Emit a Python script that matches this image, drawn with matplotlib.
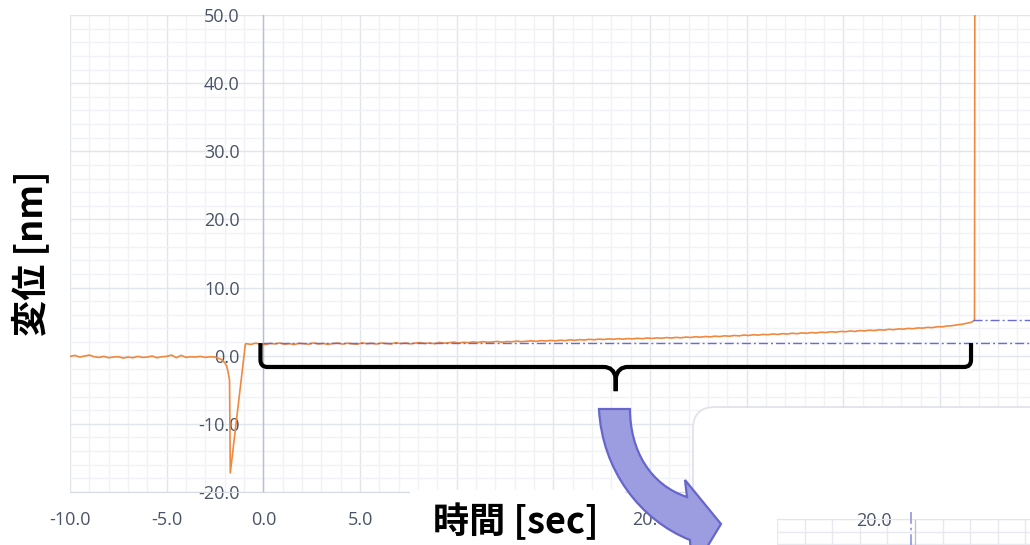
import numpy as np
import matplotlib
matplotlib.use("Agg")
import matplotlib.pyplot as plt
from matplotlib.path import Path
from matplotlib.patches import PathPatch, FancyBboxPatch, Rectangle
from matplotlib.transforms import IdentityTransform

W, H, DPI = 1030, 545, 100

# ---------------- data ----------------
# baseline before the event, sampled every 0.25 s starting at -10 s
base_t0, base_dt = -10.0, 0.25
base_disp = [-0.10, 0.05, -0.20, -0.05, 0.10, -0.15, -0.25, -0.10, -0.30, -0.20,
             -0.15, -0.35, -0.20, -0.30, -0.10, -0.25, -0.20, -0.05, -0.30, -0.15,
             -0.10, 0.10, -0.30, 0.05, -0.25, -0.15, -0.20, -0.10, -0.25, -0.15,
             -0.20]

# dip during the approach
dip_t = [-2.40, -2.20, -2.00, -1.90, -1.83, -1.75, -1.71, -0.93]
dip_disp = [-0.30, -0.50, -1.00, -1.50, -2.30, -3.60, -17.20, 1.70]

# slow creep during the hold, sampled every 0.25 s starting at -0.9 s
hold_t0, hold_dt = -0.9, 0.25
hold_disp = [
    1.78, 1.66, 1.84, 1.70, 1.62, 1.81, 1.73, 1.86, 1.68, 1.77, 1.64, 1.83,
    1.75, 1.69, 1.88, 1.72, 1.80, 1.66, 1.79, 1.87, 1.70, 1.84, 1.74, 1.68,
    1.89, 1.76, 1.83, 1.71, 1.86, 1.79, 1.72, 1.91, 1.78, 1.88, 1.74, 1.85,
    1.93, 1.80, 1.87, 1.76, 1.95, 1.84, 1.90, 2.00, 1.86, 1.97, 1.91, 2.03,
    1.94, 2.06, 1.97, 2.02, 2.10, 1.99, 2.08, 2.04, 2.15, 2.06, 2.12, 2.19,
    2.11, 2.22, 2.16, 2.25, 2.18, 2.28, 2.21, 2.33, 2.26, 2.36, 2.30, 2.41,
    2.34, 2.44, 2.38, 2.47, 2.41, 2.50, 2.43, 2.52, 2.47, 2.56, 2.49, 2.60,
    2.53, 2.62, 2.57, 2.66, 2.60, 2.69, 2.63, 2.73, 2.68, 2.78, 2.72, 2.82,
    2.76, 2.87, 2.81, 2.92, 2.86, 2.97, 2.91, 3.03, 2.97, 3.08, 3.02, 3.13,
    3.08, 3.19, 3.12, 3.24, 3.18, 3.30, 3.23, 3.35, 3.29, 3.40, 3.34, 3.46,
    3.40, 3.52, 3.45, 3.57, 3.52, 3.63, 3.56, 3.69, 3.64, 3.75, 3.69, 3.81,
    3.76, 3.88, 3.82, 3.94, 3.90, 4.01, 3.96, 4.08, 4.05, 4.16, 4.12, 4.25,
    4.24, 4.36, 4.40, 4.52, 4.60, 4.74, 4.90,
]

# release: jump off scale
release_t = [36.72, 36.78, 36.80]
release_disp = [5.08, 5.24, 60.0]

# reference levels (start / end of hold)
ref_start_t, ref_start_level = 0.0, 1.85
ref_end_t, ref_end_level = 36.70, 5.24

# brace spanning the hold period
brace_x = (-0.15, 36.60)
brace_y = (1.85, -1.65, -5.20)   # top of ends, horizontal bar, tip

x_lim = (-10.0, 39.65)
y_lim = (-20.0, 50.0)
x_major = [-10, -5, 0, 5, 10, 15, 20, 25, 30, 35]
# labels under the title plate and the card are left blank
x_ticklabels = ["-10.0", "-5.0", "0.0", "5.0", "", "", "20.0", "", "", ""]
x_minor = list(range(-10, 40))
y_major = [-20, -10, 0, 10, 20, 30, 40, 50]
y_ticklabels = ["-20.0", "-10.0", "0.0", "10.0", "20.0", "30.0", "40.0", "50.0"]
y_minor = list(range(-20, 51, 2))

# zoomed panel (only its upper edge shows)
inset_xlim = (0.0, 9.42)
inset_ylim = (16.8, 20.0)
inset_xgrid = list(range(0, 10))
inset_ygrid = [17, 18, 19, 20]
inset_ylabels = ["", "", "", "20.0"]
inset_axis_x = 5.0
inset_marker_x = 4.85

# ---------------- styling ----------------
ORANGE = "#f0883e"
REFBLUE = "#6a6ad8"
TICK_COLOR = "#4a5468"
GRID_MAJOR = "#e1e5ec"
GRID_MINOR = "#f0f2f6"
AXIS_COLOR = "#b9c1cf"
TICK_FONT = ["Open Sans", "DejaVu Sans"]
LABEL_FONT = ["Noto Sans CJK JP", "DejaVu Sans"]
TICK_SIZE = 13

fig = plt.figure(figsize=(W / DPI, H / DPI), dpi=DPI)
fig.patch.set_facecolor("white")

ax = fig.add_axes([70 / W, 1 - 492 / H, 960 / W, 477 / H])
ax.set_xlim(*x_lim)
ax.set_ylim(*y_lim)
ax.set_xticks(x_major)
ax.set_xticklabels(x_ticklabels)
ax.set_xticks(x_minor, minor=True)
ax.set_yticks(y_major)
ax.set_yticklabels(y_ticklabels)
ax.set_yticks(y_minor, minor=True)
ax.grid(which="major", color=GRID_MAJOR, lw=1.0)
ax.grid(which="minor", color=GRID_MINOR, lw=1.0)
ax.set_axisbelow(True)

ax.spines["left"].set_position(("data", 0))
ax.spines["left"].set_color(AXIS_COLOR)
ax.spines["left"].set_linewidth(1.0)
ax.spines["bottom"].set_color("#d6dbe3")
ax.spines["top"].set_visible(False)
ax.spines["right"].set_visible(False)
ax.tick_params(which="both", length=0, labelsize=TICK_SIZE, labelcolor=TICK_COLOR)
ax.tick_params(axis="y", pad=17)
ax.tick_params(axis="x", pad=14)
for lbl in ax.get_xticklabels() + ax.get_yticklabels():
    lbl.set_fontfamily(TICK_FONT)
    lbl.set_zorder(6)

# displacement trace
base_t = base_t0 + base_dt * np.arange(len(base_disp))
hold_t = hold_t0 + hold_dt * np.arange(len(hold_disp))
t_all = np.concatenate([base_t, dip_t, hold_t, release_t])
d_all = np.concatenate([base_disp, dip_disp, hold_disp, release_disp])
ax.plot(t_all, d_all, color=ORANGE, lw=1.2, zorder=3)

# reference levels
dashdot = (0, (6.5, 2.2, 1.4, 2.2))
ax.plot([ref_start_t, x_lim[1]], [ref_start_level] * 2, color=REFBLUE,
        lw=1.0, ls=dashdot, zorder=4)
ax.plot([ref_end_t, x_lim[1]], [ref_end_level] * 2, color=REFBLUE,
        lw=1.0, ls=dashdot, zorder=4)

fig.canvas.draw()
to_px = ax.transData.transform

# curly brace under the hold period
(xl, yt), (xr, yb) = to_px((brace_x[0], brace_y[0])), to_px((brace_x[1], brace_y[1]))
ytip = to_px((0, brace_y[2]))[1]
xm = 0.5 * (xl + xr)
r = 7.0
verts = [
    (xl, yt), (xl, yb + r), (xl, yb), (xl + r, yb), (xm - 12, yb),
    (xm - 2, yb), (xm, yb - 11), (xm, ytip),
    (xm, ytip), (xm, yb - 11), (xm + 2, yb), (xm + 12, yb), (xr - r, yb),
    (xr, yb), (xr, yb + r), (xr, yt),
]
codes = [
    Path.MOVETO, Path.LINETO, Path.CURVE3, Path.CURVE3, Path.LINETO,
    Path.CURVE3, Path.CURVE3, Path.LINETO,
    Path.MOVETO, Path.LINETO, Path.CURVE3, Path.CURVE3, Path.LINETO,
    Path.CURVE3, Path.CURVE3, Path.LINETO,
]
brace = PathPatch(Path(verts, codes), fc="none", ec="black", lw=3.0,
                  capstyle="butt", joinstyle="round",
                  transform=IdentityTransform(), zorder=5)
fig.add_artist(brace)


def px(x, y):
    """pixel position measured from the top-left corner -> display coords"""
    return (x, H - y)


# white card holding the zoomed view
card = FancyBboxPatch(px(693, 600), 420, 193,
                      boxstyle="round,pad=0,rounding_size=22",
                      fc="white", ec="#dfe3ea", lw=1.3,
                      transform=IdentityTransform(), zorder=2)
fig.add_artist(card)

# white plate behind the x-axis title
plate = Rectangle(px(410, 545), 215, 55, fc="white", ec="none",
                  transform=IdentityTransform(), zorder=2)
fig.add_artist(plate)

# zoomed view (upper edge only)
ins = fig.add_axes([777 / W, (H - 519 - 40) / H, 260 / W, 40 / H], zorder=3)
ins.set_xlim(*inset_xlim)
ins.set_ylim(*inset_ylim)
ins.set_xticks(inset_xgrid)
ins.set_xticklabels([])
ins.set_yticks(inset_ygrid)
ins.set_yticklabels(inset_ylabels)
ins.grid(color="#e6e9ef", lw=1.0)
ins.set_axisbelow(True)
ins.spines["left"].set_position(("data", inset_axis_x))
ins.spines["left"].set_color(AXIS_COLOR)
ins.spines["top"].set_color("#e1e5ec")
ins.spines["right"].set_visible(False)
ins.spines["bottom"].set_visible(False)
ins.tick_params(which="both", length=0, labelsize=TICK_SIZE, labelcolor=TICK_COLOR)
ins.tick_params(axis="y", pad=17)
for lbl in ins.get_yticklabels():
    lbl.set_fontfamily(TICK_FONT)
ins.plot([inset_marker_x] * 2, [inset_ylim[0], 20.6], color="#9a9ae6",
         lw=1.3, ls=dashdot, clip_on=False, zorder=4)

# curved arrow pointing into the card
arrow_pts = [px(599, 409), px(630, 409),
             px(630, 450), px(650, 485), px(687, 497),
             px(685, 480), px(721, 524), px(692, 572), px(690, 540),
             px(640, 520), px(602, 470), px(599, 409), px(599, 409)]
arrow_codes = [Path.MOVETO, Path.LINETO,
               Path.CURVE4, Path.CURVE4, Path.CURVE4,
               Path.LINETO, Path.LINETO, Path.LINETO, Path.LINETO,
               Path.CURVE4, Path.CURVE4, Path.CURVE4, Path.CLOSEPOLY]
arrow = PathPatch(Path(arrow_pts, arrow_codes), fc="#9c9ce0", ec="#6666cc",
                  lw=1.6, joinstyle="miter", transform=IdentityTransform(),
                  zorder=4)
fig.add_artist(arrow)

# axis titles
fig.text(516 / W, 1 - 522 / H, "時間 [sec]", ha="center", va="center",
         fontsize=26, fontweight="bold", family=LABEL_FONT, zorder=6)
fig.text(31 / W, 1 - 253 / H, "変位 [nm]", ha="center", va="center",
         rotation=90, fontsize=26, fontweight="bold", family=LABEL_FONT,
         zorder=6)

fig.savefig("out.png", dpi=DPI)
